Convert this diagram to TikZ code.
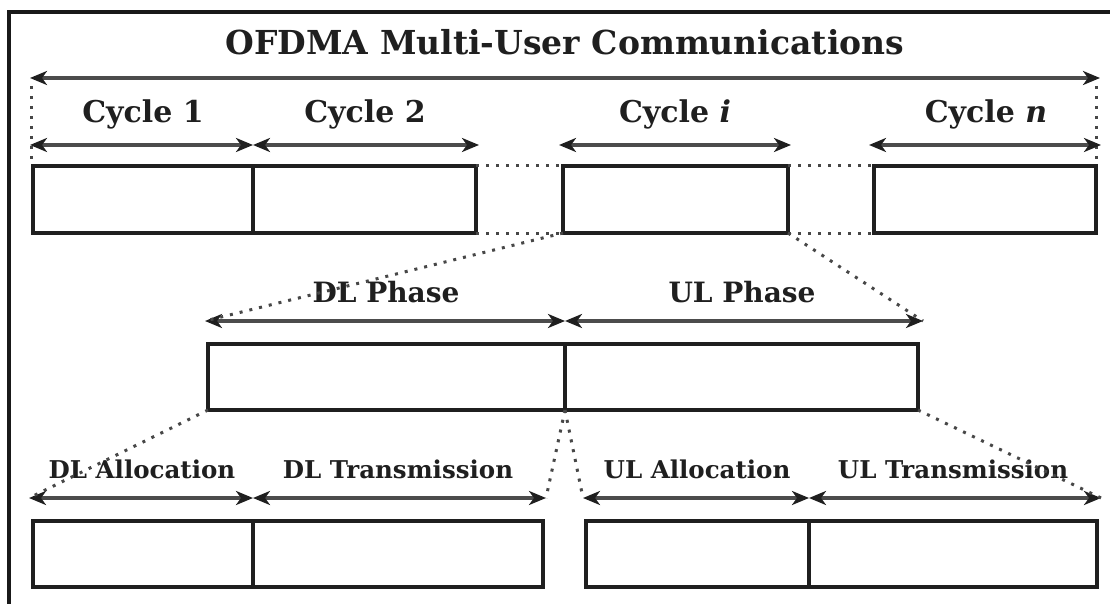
\documentclass[tikz,border=0pt]{standalone}
\usepackage{fontspec}
\setmainfont{DejaVu Serif}
\usetikzlibrary{arrows.meta,calc}
\begin{document}
\begin{tikzpicture}[x=1pt,y=-1pt,
  box/.style={draw=black!88,line width=3.6pt,anchor=north west,inner sep=0pt,outer sep=0pt},
  tip/.tip={Stealth[length=17pt,width=14pt,inset=5pt,color=black!88]},
  dim/.style={tip-tip,line width=3.4pt,draw=black!70},
  dots/.style={line width=3pt,dash pattern=on 3pt off 7pt,draw=black!72},
  ttl/.style={font=\bfseries\fontsize{33}{33}\selectfont,anchor=base,inner sep=0pt,text=black!88},
  cyc/.style={font=\bfseries\fontsize{30}{30}\selectfont,anchor=base,inner sep=0pt,text=black!88},
  lbl/.style={font=\bfseries\fontsize{28}{28}\selectfont,anchor=base,inner sep=0pt,text=black!88},
  sml/.style={font=\bfseries\fontsize{24.5}{24.5}\selectfont,anchor=base,inner sep=0pt,text=black!88}]
\useasboundingbox (0,0) rectangle (1110,604);
\fill[white] (0,0) rectangle (1110,604);
% frame
\draw[line width=3.5pt,black!90] (9,640) -- (9,12) -- (1140,12);

% title and top span
\node[ttl] (title) at (565,55) {OFDMA Multi-User Communications};
\coordinate (allL) at (30,78);
\coordinate (allR) at (1100,78);
\draw[dim] (allL) -- (allR);
\coordinate (vl1) at (31,86);
\coordinate (vl2) at (31,162);
\coordinate (vr1) at (1096,86);
\coordinate (vr2) at (1096,164);
\draw[dots] (vl1) -- (vl2);
\draw[dots] (vr1) -- (vr2);

% cycle row
\node[box,minimum width=220pt,minimum height=67pt] (b1) at (33,166) {};
\node[box,minimum width=223pt,minimum height=67pt] (b2) at (253,166) {};
\node[box,minimum width=225pt,minimum height=67pt] (bi) at (563,166) {};
\node[box,minimum width=222pt,minimum height=67pt] (bn) at (874,166) {};

\node[cyc] (c1) at (143,123) {Cycle 1};
\node[cyc] (c2) at (365,123) {Cycle 2};
\node[cyc] (ci) at (675,123) {Cycle \textit{i}};
\node[cyc] (cn) at (986,123) {Cycle \textit{n}};

\coordinate (a1L) at (30,145);
\coordinate (a1R) at (253,145);
\coordinate (a2R) at (479,145);
\coordinate (aiL) at (559,145);
\coordinate (aiR) at (791,145);
\coordinate (anL) at (869,145);
\coordinate (anR) at (1101,145);
\draw[dim] (a1L) -- (a1R);
\draw[dim] (a1R) -- (a2R);
\draw[dim] (aiL) -- (aiR);
\draw[dim] (anL) -- (anR);

\draw[dots] (b2.north east) -- (bi.north west);
\draw[dots] (b2.south east) -- (bi.south west);
\draw[dots] (bi.north east) -- (bn.north west);
\draw[dots] (bi.south east) -- (bn.south west);

% phase row
\node[box,minimum width=357pt,minimum height=66pt] (dlp) at (208,344) {};
\node[box,minimum width=353pt,minimum height=66pt] (ulp) at (565,344) {};
\node[lbl] (dlpt) at (386,302) {DL Phase};
\node[lbl] (ulpt) at (742,302) {UL Phase};
\coordinate (pL) at (205,321);
\coordinate (pM) at (565,321);
\coordinate (pR) at (923,321);
\draw[dim] (pL) -- (pM);
\draw[dim] (pM) -- (pR);
\draw[dots] (bi.south west) -- (pL);
\draw[dots] (bi.south east) -- (pR);

% allocation / transmission row
\node[box,minimum width=220pt,minimum height=66pt] (dla) at (33,521) {};
\node[box,minimum width=290pt,minimum height=66pt] (dlt) at (253,521) {};
\node[box,minimum width=223pt,minimum height=66pt] (ula) at (586,521) {};
\node[box,minimum width=288pt,minimum height=66pt] (ult) at (809,521) {};
\node[sml] (dlat) at (142,478) {DL Allocation};
\node[sml] (dltt) at (398,478) {DL Transmission};
\node[sml] (ulat) at (697,478) {UL Allocation};
\node[sml] (ultt) at (953,478) {UL Transmission};
\coordinate (qL) at (29,498);
\coordinate (qM1) at (253,498);
\coordinate (qR1) at (546,498);
\coordinate (qL2) at (583,498);
\coordinate (qM2) at (809,498);
\coordinate (qR) at (1101,498);
\draw[dim] (qL) -- (qM1);
\draw[dim] (qM1) -- (qR1);
\draw[dim] (qL2) -- (qM2);
\draw[dim] (qM2) -- (qR);
\draw[dots] (dlp.south west) -- (qL);
\draw[dots] (dlp.south east) -- (qR1);
\draw[dots] (dlp.south east) -- (qL2);
\draw[dots] (ulp.south east) -- (qR);
\end{tikzpicture}
\end{document}
